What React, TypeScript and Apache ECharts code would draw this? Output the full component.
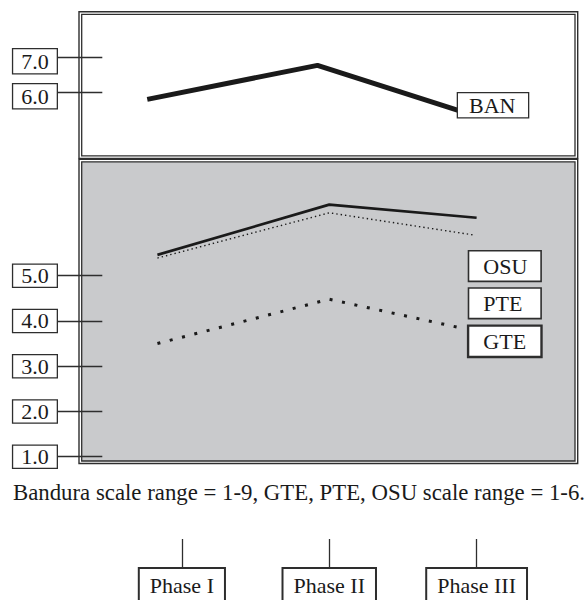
import React, { useEffect, useRef } from 'react';
import * as echarts from 'echarts';

// ---- data ----
const phases = ['Phase I', 'Phase II', 'Phase III'];
const topAxisRange = [6, 7];
const lowerAxisRange = [1, 5];

// x positions are in "phase units" (Phase I = 1, Phase II = 2, Phase III = 3)
const banX = [0.765, 1.92, 2.88];
const banY = [5.81, 6.78, 5.49];
const osuX = [0.834, 2.0, 3.0];
const osuY = [5.46, 6.57, 6.28];
const pteX = [0.834, 2.0, 2.98];
const pteY = [5.39, 6.39, 5.9];
const gteX = [0.834, 2.0, 2.9];
const gteY = [3.5, 4.48, 3.84];

const caption = 'Bandura scale range = 1-9, GTE, PTE, OSU scale range = 1-6.';

const FONT = "'Liberation Serif', 'Times New Roman', serif";
const INK = '#1a1a1a';
const EDGE = '#2e2e2e';
const GREY = '#c9cacc';

const zip = (xs: number[], ys: number[]) => xs.map((x, i) => [x, ys[i]]);

const GRID_L = 108.2;
const GRID_R = 37.7;

const boxLabel = {
  fontFamily: FONT,
  fontSize: 22,
  color: INK,
  backgroundColor: '#fff',
  borderColor: EDGE,
  borderWidth: 1.3,
};

export default function App() {
  const ref = useRef<HTMLDivElement>(null);

  useEffect(() => {
    if (!ref.current) return;
    const chart = echarts.init(ref.current, undefined, { renderer: 'svg' });

    const yAxisCommon = (gridIndex: number, range: number[], shifted: boolean) => ({
      gridIndex,
      type: 'value',
      min: range[0],
      max: range[1],
      interval: 1,
      offset: 5.9,
      z: 10,
      axisLine: { show: false },
      splitLine: { show: false },
      axisTick: { show: true, length: 45.6, lineStyle: { color: EDGE, width: 1.3 } },
      axisLabel: shifted
        ? {
            margin: 45.6,
            formatter: (v: number) => '{s| }\n{b|' + v.toFixed(1) + '}',
            rich: {
              s: { fontSize: 1, lineHeight: 7, height: 7 },
              b: { ...boxLabel, lineHeight: 20, padding: [1, 8, 1, 8] },
            },
          }
        : {
            ...boxLabel,
            margin: 45.6,
            lineHeight: 20,
            padding: [1, 8, 1, 8],
            formatter: (v: number) => v.toFixed(1),
          },
    });

    const lineBase = {
      type: 'line',
      showSymbol: false,
      symbol: 'none',
      clip: false,
      silent: true,
      z: 5,
    };

    const option: any = {
      animation: false,
      backgroundColor: '#fff',
      grid: [
        { left: GRID_L, right: GRID_R, top: 57.7, height: 35, outerBoundsMode: 'none' },
        { left: GRID_L, right: GRID_R, top: 275.7, height: 181, outerBoundsMode: 'none' },
        { left: GRID_L, right: GRID_R, top: 480, height: 59, outerBoundsMode: 'none' },
      ],
      xAxis: [
        { gridIndex: 0, type: 'value', min: 0.5, max: 3.5, show: false },
        { gridIndex: 1, type: 'value', min: 0.5, max: 3.5, show: false },
        {
          gridIndex: 2,
          type: 'category',
          data: phases,
          z: 10,
          axisLine: { show: false },
          splitLine: { show: false },
          axisTick: { show: true, alignWithLabel: true, length: 30, lineStyle: { color: EDGE, width: 1.3 } },
          axisLabel: {
            ...boxLabel,
            interval: 0,
            margin: 30,
            borderWidth: 2,
            lineHeight: 22,
            padding: [5, 10, 5, 10],
          },
        },
      ],
      yAxis: [
        yAxisCommon(0, topAxisRange, true),
        yAxisCommon(1, lowerAxisRange, false),
        { gridIndex: 2, type: 'value', show: false },
      ],
      legend: [
        {
          data: ['BAN'],
          left: 453,
          top: 92,
          padding: 0,
          icon: 'none',
          itemWidth: 0,
          itemHeight: 0,
          selectedMode: false,
          z: 20,
          textStyle: { ...boxLabel, lineHeight: 22, padding: [1, 0, 1, 11], width: 59 },
        },
        {
          data: ['OSU', 'PTE', { name: 'GTE', textStyle: { borderWidth: 2.4 } }],
          orient: 'vertical',
          left: 464.3,
          top: 250,
          padding: 0,
          itemGap: 5,
          icon: 'none',
          itemWidth: 0,
          itemHeight: 0,
          selectedMode: false,
          z: 20,
          textStyle: { ...boxLabel, borderWidth: 1.6, lineHeight: 22, padding: [4, 0, 3, 14], width: 57 },
        },
      ],
      graphic: [
        { type: 'rect', z: 0, shape: { x: 79, y: 11.7, width: 498.7, height: 146.8 }, style: { fill: '#fff', stroke: EDGE, lineWidth: 1.4 } },
        { type: 'rect', z: 0, shape: { x: 81.7, y: 14.3, width: 493.3, height: 141.5 }, style: { fill: '#fff', stroke: EDGE, lineWidth: 1.3 } },
        { type: 'rect', z: 0, shape: { x: 79, y: 159.3, width: 498.7, height: 304.2 }, style: { fill: '#fff', stroke: EDGE, lineWidth: 1.4 } },
        { type: 'rect', z: 0, shape: { x: 81.7, y: 161.8, width: 493.3, height: 299.2 }, style: { fill: GREY, stroke: EDGE, lineWidth: 1.3 } },
        {
          type: 'text',
          z: 1,
          x: 13,
          y: 492,
          style: { text: caption, font: `22.8px ${FONT}`, fill: INK, verticalAlign: 'middle' },
        },
      ],
      series: [
        {
          ...lineBase,
          name: 'BAN',
          xAxisIndex: 0,
          yAxisIndex: 0,
          data: zip(banX, banY),
          lineStyle: { color: INK, width: 5 },
        },
        {
          ...lineBase,
          name: 'OSU',
          xAxisIndex: 1,
          yAxisIndex: 1,
          data: zip(osuX, osuY),
          lineStyle: { color: INK, width: 2.7 },
        },
        {
          ...lineBase,
          name: 'PTE',
          xAxisIndex: 1,
          yAxisIndex: 1,
          data: zip(pteX, pteY),
          lineStyle: { color: INK, width: 1.4, type: [1.4, 3] },
        },
        {
          ...lineBase,
          name: 'GTE',
          xAxisIndex: 1,
          yAxisIndex: 1,
          data: zip(gteX, gteY),
          lineStyle: { color: INK, width: 3, type: [3, 9.7] },
        },
      ],
    };

    chart.setOption(option);
    return () => chart.dispose();
  }, []);

  return (
    <div
      ref={ref}
      style={{ position: 'absolute', left: 0, top: 0, width: 588, height: 600 }}
    />
  );
}
